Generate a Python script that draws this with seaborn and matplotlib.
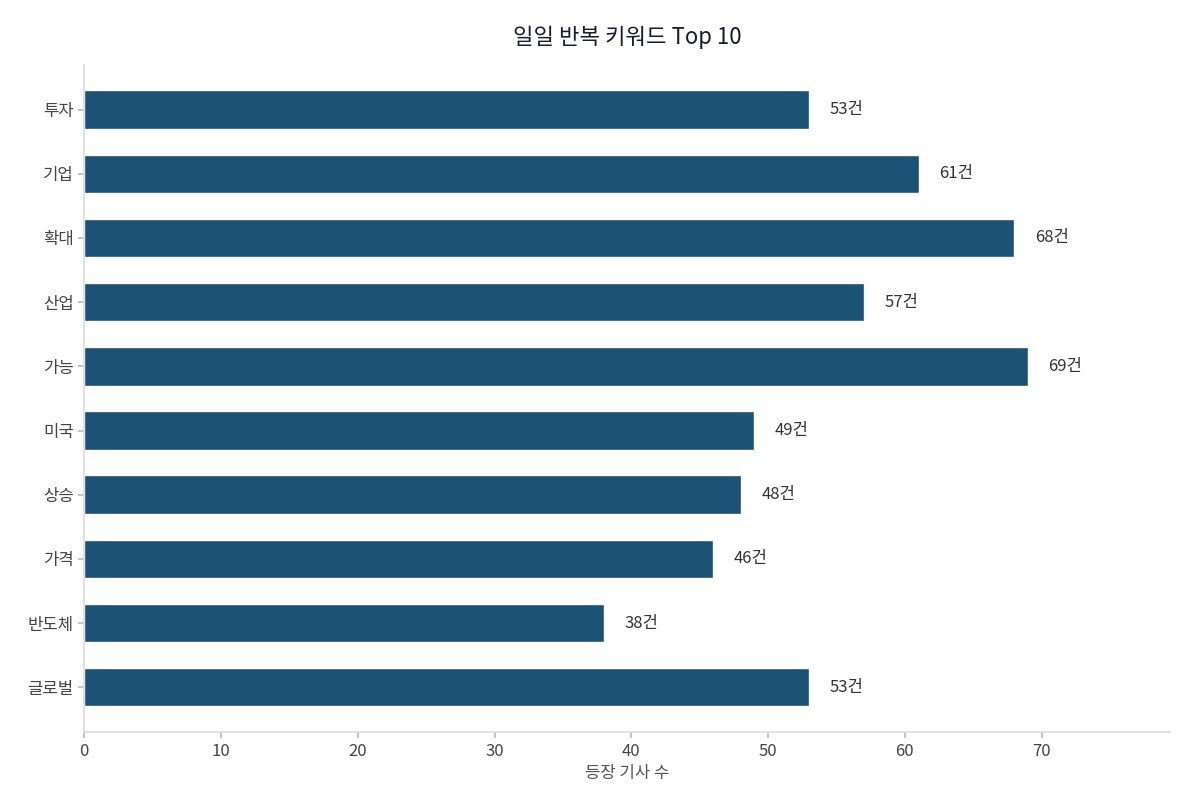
import matplotlib
matplotlib.use("Agg")
import matplotlib.pyplot as plt
import seaborn as sns
import pandas as pd

keywords = ["투자", "기업", "확대", "산업", "가능", "미국", "상승", "가격", "반도체", "글로벌"]
counts = [53, 61, 68, 57, 69, 49, 48, 46, 38, 53]

sns.set_theme(style="white")
plt.rcParams['font.family'] = ['Noto Sans CJK KR', 'DejaVu Sans']

df = pd.DataFrame({"keyword": keywords, "count": counts})
fig, ax = plt.subplots(figsize=(11.85, 8.09), dpi=100)
fig.subplots_adjust(left=0.071, right=0.987, top=0.92, bottom=0.095)
sns.barplot(data=df, y="keyword", x="count", color="#1b5276", width=0.6, ax=ax, saturation=1)

for i, v in enumerate(counts):
    ax.text(v + 1.5, i, f"{v}건", va="center", ha="left", fontsize=12, color="#333333")

ax.set_xlim(0, max(counts) * 1.15)
ax.set_ylim(len(keywords) - 0.3, -0.7)
ax.set_title("일일 반복 키워드 Top 10", fontsize=16, color="#1a1a2e", pad=15)
ax.set_xlabel("등장 기사 수", fontsize=12, color="#555555")
ax.set_ylabel("")
for s in ["top", "right"]:
    ax.spines[s].set_visible(False)
for s in ["left", "bottom"]:
    ax.spines[s].set_color("#dddddd")
ax.tick_params(axis="both", length=4, color="#bbbbbb", labelsize=12, labelcolor="#444444", bottom=True, left=True)
fig.savefig("out.png", dpi=100)
